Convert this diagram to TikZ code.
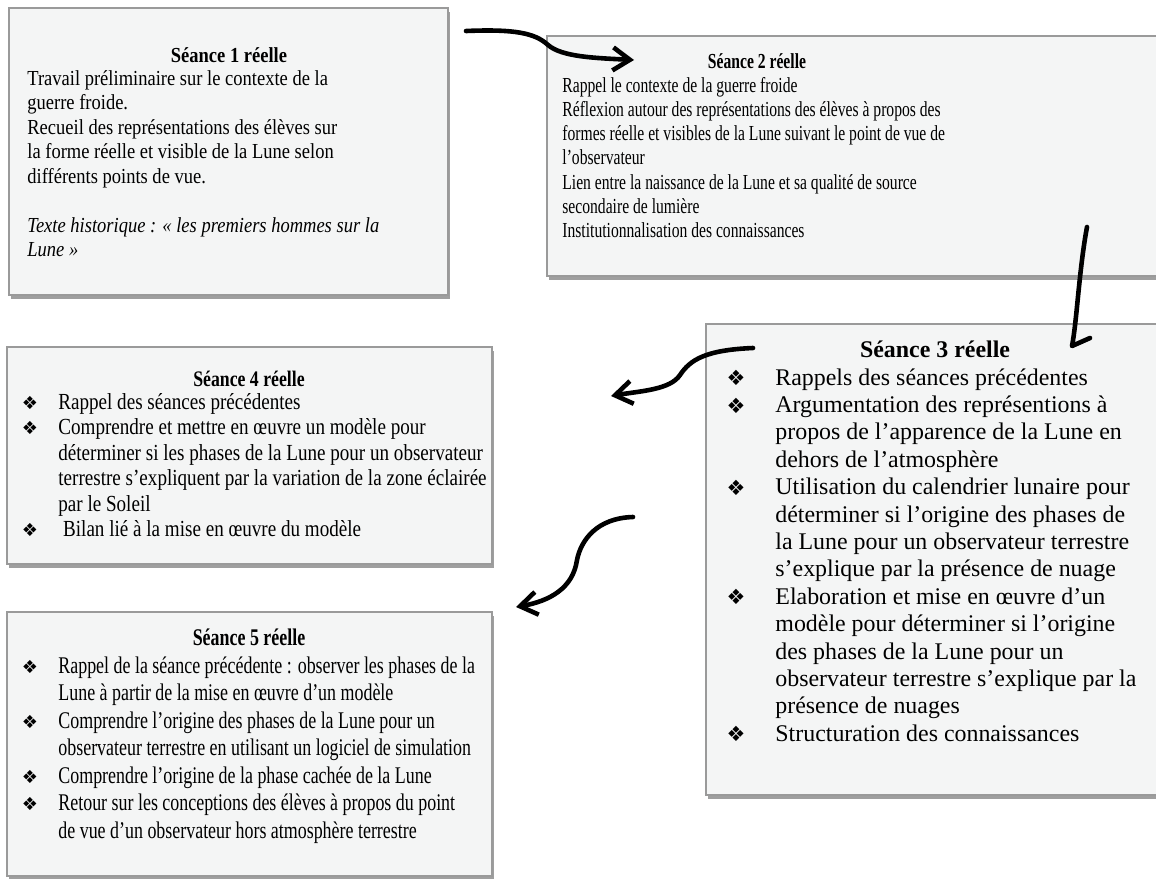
\documentclass[tikz,border=0pt]{standalone}
\usepackage{fontspec}
\setmainfont{Liberation Serif}
\newfontfamily\fntA[FakeStretch=0.865]{Liberation Serif}
\newfontfamily\fntB[FakeStretch=0.73]{Liberation Serif}
\newfontfamily\fntD[FakeStretch=0.80]{Liberation Serif}
\newfontfamily\fntDD[FakeStretch=0.83]{Liberation Serif}
\newfontfamily\fntE[FakeStretch=0.75]{Liberation Serif}
\newfontfamily\fntC{Liberation Serif}
\newfontfamily\bulfont{DejaVu Sans}
\usetikzlibrary{shadows,fit,arrows.meta}
\definecolor{boxfill}{HTML}{F4F5F5}
\definecolor{boxline}{HTML}{9A9A9A}
\begin{document}
\begin{tikzpicture}[x=0.5pt,y=-0.5pt,
  box/.style={draw=boxline, line width=0.8pt, fill=boxfill, inner sep=0pt,
    drop shadow={shadow xshift=0.8pt, shadow yshift=-2pt, fill=black!75, opacity=0.5}},
  tx/.style={inner sep=0pt, anchor=base west},
  ttl/.style={inner sep=0pt, anchor=base},
  bul/.style={inner sep=0pt, anchor=center, font=\bulfont\fontsize{9}{10}\selectfont},
  bulbig/.style={bul, font=\bulfont\fontsize{10.5}{11}\selectfont},
  conn/.style={line width=2.3pt, line cap=round, line join=round},
  arr/.style={conn, -{Straight Barb[length=8.5pt,width=11.5pt,line width=2.3pt]}}]
\useasboundingbox (0,0) rectangle (1156,878);

% boxes
\node[box, fit={(9,8)(448,295)}] (b1) {};
\node[box, fit={(547,36)(1162,276)}] (b2) {};
\node[box, fit={(706,324)(1162,795)}] (b3) {};
\node[box, fit={(7,347)(492,564)}] (b4) {};
\node[box, fit={(7,612)(492,876)}] (b5) {};

% Box 1
\begin{scope}[every node/.append style={font=\fntA\fontsize{10.7}{12}\selectfont}]
\node[ttl] (t1) at (229,62) {\bfseries Séance 1 réelle};
\foreach \s [count=\i] in {{Travail préliminaire sur le contexte de la},{guerre froide.},{Recueil des représentations des élèves sur},{la forme réelle et visible de la Lune selon},{différents points de vue.}}
  \node[tx] (l1-\i) at (27,{85+24.5*(\i-1)}) {\s};
\node[tx] (l1-6) at (27,232) {\itshape Texte historique : « les premiers hommes sur la};
\node[tx] (l1-7) at (27,256.5) {\itshape Lune »};
\end{scope}

% Box 2
\begin{scope}[every node/.append style={font=\fntB\fontsize{10.7}{12}\selectfont}]
\node[ttl] (t2) at (757,68) {\bfseries Séance 2 réelle};
\foreach \s [count=\i] in {{Rappel le contexte de la guerre froide},{Réflexion autour des représentations des élèves à propos des},{formes réelle et visibles de la Lune suivant le point de vue de},{l’observateur},{Lien entre la naissance de la Lune et sa qualité de source},{secondaire de lumière},{Institutionnalisation des connaissances}}
  \node[tx] (l2-\i) at (562,{92+24.3*(\i-1)}) {\s};
\end{scope}

% Box 3
\begin{scope}[every node/.append style={font=\fntC\fontsize{11.95}{13.7}\selectfont}]
\node[ttl] (t3) at (935,357) {\bfseries Séance 3 réelle};
\foreach \s [count=\i] in {{Rappels des séances précédentes},{Argumentation des représentions à},{propos de l’apparence de la Lune en},{dehors de l’atmosphère},{Utilisation du calendrier lunaire pour},{déterminer si l’origine des phases de},{la Lune pour un observateur terrestre},{s’explique par la présence de nuage},{Elaboration et mise en œuvre d’un},{modèle pour déterminer si l’origine},{des phases de la Lune pour un},{observateur terrestre s’explique par la},{présence de nuages},{Structuration des connaissances}}
  \node[tx] (l3-\i) at (775,{385+27.4*(\i-1)}) {\s};
\end{scope}
\foreach \k in {1,2,5,9,14}
  \node[bulbig] (u3-\k) at (736,{385+27.4*(\k-1)-7}) {❖};

% Box 4
\node[ttl, font=\fntD\fontsize{11.1}{12.75}\selectfont] (t4) at (249,386) {\bfseries Séance 4 réelle};
\begin{scope}[every node/.append style={font=\fntDD\fontsize{11.5}{13}\selectfont}]
\foreach \s [count=\i] in {{Rappel des séances précédentes},{Comprendre et mettre en œuvre un modèle pour},{déterminer si les phases de la Lune pour un observateur},{terrestre s’expliquent par la variation de la zone éclairée},{par le Soleil}}
  \node[tx] (l4-\i) at (58,{409+25.5*(\i-1)}) {\s};
\node[tx] (l4-6) at (58,536.5) {\ Bilan lié à la mise en œuvre du modèle};
\end{scope}
\foreach \k in {1,2,6}
  \node[bul] (u4-\k) at (30,{409+25.5*(\k-1)-6.5}) {❖};

% Box 5
\begin{scope}[every node/.append style={font=\fntE\fontsize{11.95}{13.75}\selectfont}]
\node[ttl] (t5) at (249,645) {\bfseries Séance 5 réelle};
\foreach \s [count=\i] in {{Rappel de la séance précédente : observer les phases de la},{Lune à partir de la mise en œuvre d’un modèle},{Comprendre l’origine des phases de la Lune pour un},{observateur terrestre en utilisant un logiciel de simulation},{Comprendre l’origine de la phase cachée de la Lune},{Retour sur les conceptions des élèves à propos du point},{de vue d’un observateur hors atmosphère terrestre}}
  \node[tx] (l5-\i) at (58,{673+27.5*(\i-1)}) {\s};
\end{scope}
\foreach \k in {1,3,5,6}
  \node[bul] (u5-\k) at (30,{673+27.5*(\k-1)-6.5}) {❖};

% arrows
\coordinate (a1s) at (466,31);
\coordinate (a1m) at (548,45);
\coordinate (a1e) at (634,60);
\draw[arr] (a1s) .. controls (515,29) and (535,33) .. (a1m) .. controls (562,57) and (595,58) .. (a1e);

\coordinate (a2s) at (1087,227);
\coordinate (a2e) at (1072,346);
\coordinate (a2b) at (1090,338);
\draw[conn] (a2s) .. controls (1079,270) and (1077,320) .. (a2e) -- (a2b);

\coordinate (a3s) at (753,348);
\coordinate (a3m) at (680,375);
\coordinate (a3e) at (611,396);
\draw[arr] (a3s) .. controls (705,350) and (690,360) .. (a3m) .. controls (670,390) and (640,391) .. (a3e);

\coordinate (a4s) at (633,517);
\coordinate (a4m) at (577,560);
\coordinate (a4e) at (516,607);
\draw[arr] (a4s) .. controls (597,518) and (581,540) .. (a4m) .. controls (573,588) and (550,601) .. (a4e);
\end{tikzpicture}
\end{document}
